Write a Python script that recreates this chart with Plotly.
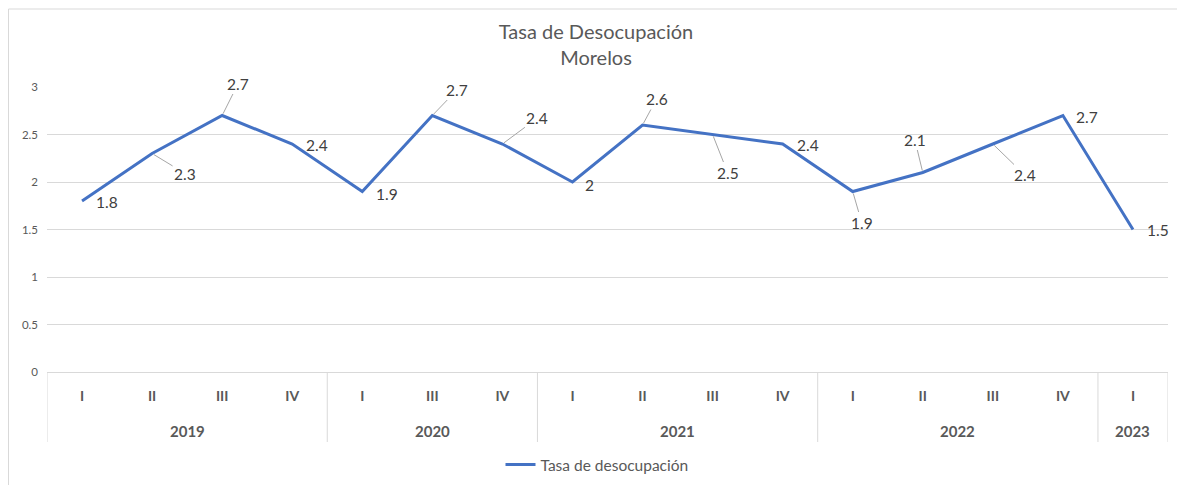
import plotly.graph_objects as go

# ---- data ----
years = ["2019", "2019", "2019", "2019",
         "2020", "2020", "2020",
         "2021", "2021", "2021", "2021",
         "2022", "2022", "2022", "2022",
         "2023"]
quarters = ["I", "II", "III", "IV",
            "I", "III", "IV",
            "I", "II", "III", "IV",
            "I", "II", "III", "IV",
            "I"]
tasa = [1.8, 2.3, 2.7, 2.4, 1.9, 2.7, 2.4, 2.0, 2.6, 2.5, 2.4, 1.9, 2.1, 2.4, 2.7, 1.5]
y_ticks = [0, 0.5, 1, 1.5, 2, 2.5, 3]

# label placement (pixel offsets of the data labels from their points; leader = line drawn)
label_dx = [25, 33, 16, 25, 25, 25, 35, 17, 14, 15, 25, 9, -8, 32, 24, 25]
label_dy = [1, 20, -32, 1, 2, -26, -26, 3, -26, 38, 1, 31, -33, 31, 1, 0]
leader = [False, True, True, False, False, True, True, False, True, True, False, True, True, True, False, False]

TEXT = "#595959"
GRID = "#d9d9d9"
FONT = "Lato, 'Open Sans', sans-serif"

# page offset (browser body margin) compensation
OFF = 8
W, H = 1185, 485
L, T = 47 - OFF, 87 - OFF
PW, PH = 1121, 285
R = W - L - PW
B = H - T - PH

xs = list(range(len(tasa)))

fig = go.Figure()
fig.add_trace(go.Scatter(
    x=xs, y=tasa, mode="lines", name="Tasa de desocupación",
    line=dict(color="#4472C4", width=3),
    hoverinfo="y",
))

annotations = []
for i, v in enumerate(tasa):
    txt = f"{v:g}"
    if leader[i]:
        annotations.append(dict(
            x=xs[i], y=v, xref="x", yref="y", text=txt,
            showarrow=True, arrowhead=0, arrowwidth=1, arrowcolor="#a6a6a6",
            ax=label_dx[i], ay=label_dy[i], standoff=2,
            font=dict(family=FONT, size=15.5, color="#404040"),
        ))
    else:
        annotations.append(dict(
            x=xs[i], y=v, xref="x", yref="y", text=txt, showarrow=False,
            xshift=label_dx[i], yshift=-label_dy[i],
            font=dict(family=FONT, size=15.5, color="#404040"),
        ))

# year group labels and dividers
groups = []
for i, yv in enumerate(years):
    if not groups or groups[-1][0] != yv:
        groups.append([yv, i, i])
    else:
        groups[-1][2] = i

shapes = []
div_bottom = -70 / PH
for g in groups:
    yv, a, b = g
    annotations.append(dict(
        x=(a + b) / 2, y=-59 / PH, xref="x", yref="paper", text=f"<b>{yv}</b>",
        showarrow=False, yanchor="middle", xanchor="center",
        font=dict(family=FONT, size=15, color=TEXT),
    ))
    shapes.append(dict(type="line", xref="x", yref="paper", x0=a - 0.5, x1=a - 0.5,
                       y0=0, y1=div_bottom, line=dict(color=GRID, width=1)))
shapes.append(dict(type="line", xref="x", yref="paper", x0=len(xs) - 0.5, x1=len(xs) - 0.5,
                   y0=0, y1=div_bottom, line=dict(color=GRID, width=1)))

# chart border
shapes.append(dict(type="rect", xref="paper", yref="paper",
                   x0=(0.5 - L) / PW, x1=(1170 - L) / PW,
                   y0=-(B + 5) / PH, y1=1 + (T - 1) / PH,
                   line=dict(color=GRID, width=1), fillcolor="rgba(0,0,0,0)", layer="below"))

fig.update_layout(
    width=W, height=H,
    margin=dict(l=L, r=R, t=T, b=B, autoexpand=False),
    paper_bgcolor="white", plot_bgcolor="white",
    title=dict(text="Tasa de Desocupación<br>Morelos", x=(596 - OFF) / W, xanchor="center",
               y=1 - (39 - OFF) / H, yanchor="middle",
               font=dict(family=FONT, size=20, color=TEXT)),
    font=dict(family=FONT, color=TEXT),
    showlegend=True,
    legend=dict(orientation="h", x=(597 - 47) / PW, xanchor="center",
                y=(372 - 465) / PH, yanchor="middle",
                font=dict(family=FONT, size=15.5, color=TEXT)),
    annotations=annotations,
    shapes=shapes,
)
fig.update_xaxes(
    range=[-0.5, len(xs) - 0.5], tickmode="array", tickvals=xs,
    ticktext=[f"<b>{q}</b>" for q in quarters],
    tickfont=dict(family=FONT, size=14, color=TEXT),
    showgrid=False, zeroline=False, showline=False, ticks="",
    ticklabelstandoff=14, automargin=False,
)
fig.update_yaxes(
    range=[0, 3], tickmode="array", tickvals=y_ticks,
    ticktext=[f"{t:g}" for t in y_ticks],
    tickfont=dict(family=FONT, size=11.5, color=TEXT),
    showgrid=True, gridcolor=GRID, gridwidth=1,
    zeroline=True, zerolinecolor=GRID, zerolinewidth=1,
    showline=False, ticks="", ticklabelstandoff=8, automargin=False,
)

fig.write_html("out.html")
